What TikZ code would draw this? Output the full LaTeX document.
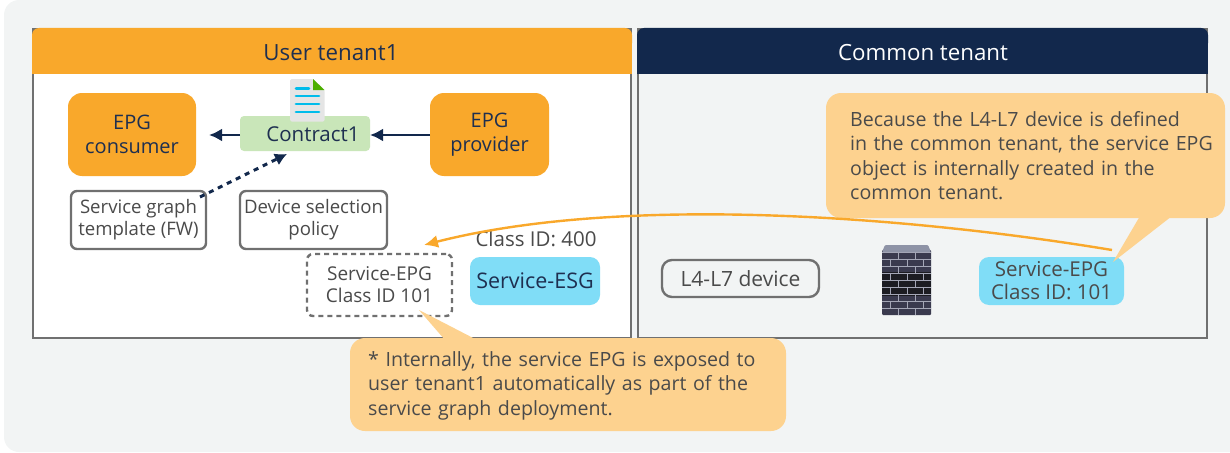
\documentclass[tikz,border=0pt]{standalone}
\usepackage{fontspec}
\setmainfont{Open Sans}
\usetikzlibrary{arrows.meta,calc}
\definecolor{bgc}{HTML}{F2F4F4}
\definecolor{orangec}{HTML}{F9A82B}
\definecolor{navyc}{HTML}{12284C}
\definecolor{callc}{HTML}{FDD28F}
\definecolor{greenc}{HTML}{C9E6B9}
\definecolor{bluec}{HTML}{80DDF7}
\definecolor{bordc}{HTML}{707070}
\definecolor{txtc}{HTML}{4A4A4A}
\definecolor{darkc}{HTML}{1E2F50}
\definecolor{cyanc}{HTML}{00BCEB}
\definecolor{brickc}{HTML}{3A3A4E}
\definecolor{brickd}{HTML}{1C1C22}
\definecolor{mortarc}{HTML}{A4A6B6}
\tikzset{
  epgbox/.style={fill=orangec,rounded corners=14pt,inner sep=0pt,align=center,text=darkc,font=\fontsize{20}{24}\selectfont},
  greybox/.style={draw=bordc,line width=2.4pt,fill=white,rounded corners=6pt,inner sep=0pt,align=center,text=txtc,font=\fontsize{18.6}{22}\selectfont},
  bluebox/.style={fill=bluec,rounded corners=10pt,inner sep=0pt,align=center},
  callout/.style={fill=callc,rounded corners=15pt,inner sep=0pt,text=txtc,align=left,font=\fontsize{19.6}{24.5}\selectfont},
  arrowline/.style={draw=navyc,line width=2.8pt,-{Latex[length=13pt,width=13pt]}},
  dashline/.style={draw=navyc,line width=3pt,dash pattern=on 5pt off 5pt,-{Latex[length=12pt,width=13pt]}},
  curveline/.style={draw=orangec,line width=2.4pt,-{Latex[length=14pt,width=13pt]}},
}
\begin{document}
\begin{tikzpicture}[x=1pt,y=-1pt]
\useasboundingbox (0,0) rectangle (1230,452);
\fill[bgc,rounded corners=15pt] (4,0) rectangle (1245,452);
% panels
\node[draw=bordc,line width=2.4pt,fill=white,anchor=north west,inner sep=0pt,outer sep=0pt,minimum width=598pt,minimum height=309pt] (userbody) at (33,29) {};
\node[draw=bordc,line width=2.4pt,fill=bgc,anchor=north west,inner sep=0pt,outer sep=0pt,minimum width=569pt,minimum height=309pt] (commonbody) at (638,29) {};
\fill[orangec,rounded corners=7pt] (32,28) rectangle (632,50);
\fill[orangec] (32,40) rectangle (632,74);
\fill[navyc,rounded corners=7pt] (637,28) rectangle (1208,50);
\fill[navyc] (637,40) rectangle (1208,74);
\node[inner sep=0pt,text=darkc,font=\fontsize{22.3}{25}\selectfont] (usertitle) at (331,53) {User tenant1};
\node[inner sep=0pt,text=white,font=\fontsize{22.3}{25}\selectfont] (commontitle) at (923,53) {Common tenant};
% user tenant
\node[epgbox,minimum width=128pt,minimum height=83pt] (consumer) at (132,134.5) {EPG\\consumer};
\node[epgbox,minimum width=119pt,minimum height=83pt] (provider) at (489.5,134.5) {EPG\\provider};
\node[fill=greenc,rounded corners=4pt,minimum width=130pt,minimum height=35pt,inner sep=0pt] (contract) at (305,133.5) {};
% document icon
\fill[black!10,rounded corners=1.5pt] (290,79) -- (313,79) -- (324.5,90) -- (324.5,121.5) -- (290,121.5) -- cycle;
\fill[green!55!black!70!yellow] (313,79) -- (324.5,90) -- (313,90) -- cycle;
\draw[cyanc,line width=2.8pt,line cap=round] (296,88.5) -- (309,88.5) (296,96) -- (319,96) (296,104) -- (319,104) (296,112) -- (319,112);
\node[inner sep=0pt,text=darkc,font=\fontsize{20.5}{22}\selectfont] (contractlabel) at (313,134.5) {Contract1};
\coordinate (provL) at (430,135);
\coordinate (conR) at (370,135);
\coordinate (conL) at (240,135);
\coordinate (consR) at (209,135);
\draw[arrowline] (provL) -- (conR);
\draw[arrowline] (conL) -- (consR);
\node[greybox,minimum width=135pt,minimum height=58pt] (sgt) at (138.5,220) {Service graph\\template (FW)};
\node[greybox,minimum width=147pt,minimum height=58pt] (dsp) at (313.5,220) {Device selection\\policy};
\coordinate (dashstart) at (200,197);
\coordinate (dashend) at (287,154);
\draw[dashline] (dashstart) -- (dashend);
\node[draw=bordc,line width=2.4pt,dash pattern=on 5pt off 4pt,rounded corners=6pt,minimum width=145pt,minimum height=62pt,inner sep=0pt,align=center,text=txtc,font=\fontsize{19}{22}\selectfont] (sepgu) at (379.5,285) {Service-EPG\\Class ID 101};
\node[inner sep=0pt,text=txtc,font=\fontsize{20.5}{22}\selectfont] (classid) at (536,239) {Class ID: 400};
\node[bluebox,text=darkc,minimum width=130pt,minimum height=48pt,font=\fontsize{21.5}{24}\selectfont] (sesg) at (535,281) {Service-ESG};
% common tenant
\node[greybox,fill=bgc,rounded corners=10pt,minimum width=157pt,minimum height=37pt,font=\fontsize{21}{24}\selectfont] (l4l7) at (740.5,278.5) {L4-L7 device};
% firewall
\fill[brickc,rounded corners=1pt] (882,250) rectangle (931,315);
\fill[brickd] (882,272) rectangle (931,296);
\fill[mortarc!85!navyc,rounded corners=1pt] (882,252) -- (885,245) -- (928,245) -- (931,252) -- cycle;
\foreach \r [count=\i] in {252,259,266,273,280,287,294,301,308}{
  \draw[mortarc,line width=.9pt] (882,\r) -- (931,\r);
  \ifodd\i
    \foreach \c in {898,915}{\draw[mortarc,line width=.9pt] (\c,\r) -- (\c,\r+7);}
  \else
    \foreach \c in {890,907,923}{\draw[mortarc,line width=.9pt] (\c,\r) -- (\c,\r+7);}
  \fi
}
\node[bluebox,text=txtc,minimum width=145pt,minimum height=48pt,font=\fontsize{20.5}{23}\selectfont] (sepgc) at (1051.5,281) {Service-EPG\\Class ID: 101};
% callouts
\coordinate (tail1) at (1113,262);
\coordinate (tail2) at (419,310);
\fill[callc] (1140,216) -- (tail1) -- (1172,216) -- cycle;
\fill[callc] (445,340) -- (tail2) -- (477,340) -- cycle;
\node[callout,minimum width=399pt,minimum height=125pt] (call1) at (1025.5,155.5) {};
\node[callout,fill=none,anchor=west,text width=370pt] (call1text) at (850,155.5) {Because the L4-L7 device is defined\\in the common tenant, the service EPG\\object is internally created in the\\common tenant.};
\node[callout,minimum width=436pt,minimum height=93pt] (call2) at (568,384.5) {};
\node[callout,fill=none,anchor=west,text width=410pt] (call2text) at (368,385.5) {* Internally, the service EPG is exposed to\\user tenant1 automatically as part of the\\service graph deployment.};
% orange connector
\coordinate (curvestart) at (1112,250);
\coordinate (curveend) at (424,245);
\draw[curveline] (curvestart) .. controls (900,215) and (620,195) .. (curveend);
\end{tikzpicture}
\end{document}
